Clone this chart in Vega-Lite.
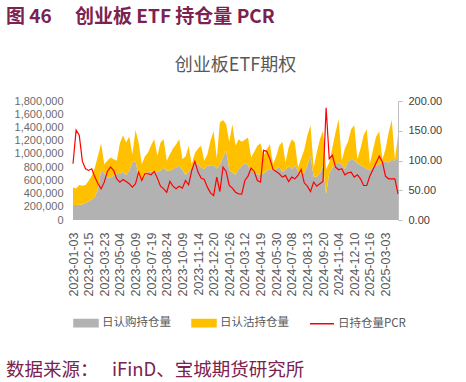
{
  "$schema": "https://vega.github.io/schema/vega-lite/v6.json",
  "background": "white",
  "padding": {"left": 6, "top": 8, "right": 5, "bottom": 2},
  "title": {"text": "数据来源：　 iFinD、宝城期货研究所", "orient": "bottom", "anchor": "start", "frame": "bounds", "font": "Noto Sans CJK SC", "fontSize": 18.5, "fontWeight": "normal", "color": "#7B2250", "offset": 31},
  "vconcat": [
    {
      "title": {"text": "图 46　 创业板 ETF 持仓量 PCR", "anchor": "start", "frame": "bounds", "font": "Noto Sans CJK SC", "fontSize": 19, "fontWeight": "bold", "color": "#7B2250", "offset": 30},
      "vconcat": [
        {
          "width": 325,
          "height": 119,
          "title": {"text": "创业板ETF期权", "font": "Noto Sans CJK SC", "fontSize": 18, "fontWeight": "normal", "color": "#595959", "anchor": "middle", "offset": 20},
          "data": {"values": [
            {"d":"2023-01-03","call":226000,"put":267000,"pcr":94.6},
            {"d":"2023-01-10","call":226000,"put":252000,"pcr":150.9},
            {"d":"2023-01-17","call":231000,"put":297000,"pcr":142.4},
            {"d":"2023-02-01","call":236000,"put":282000,"pcr":98.5},
            {"d":"2023-02-08","call":257000,"put":272000,"pcr":86.1},
            {"d":"2023-02-15","call":282000,"put":312000,"pcr":83.3},
            {"d":"2023-02-22","call":307000,"put":362000,"pcr":86.1},
            {"d":"2023-03-01","call":347000,"put":448000,"pcr":72.1},
            {"d":"2023-03-08","call":468000,"put":503000,"pcr":60.8},
            {"d":"2023-03-15","call":760000,"put":402000,"pcr":52.4},
            {"d":"2023-03-23","call":709000,"put":136000,"pcr":63.6},
            {"d":"2023-03-30","call":644000,"put":252000,"pcr":81.6},
            {"d":"2023-04-07","call":644000,"put":302000,"pcr":89.0},
            {"d":"2023-04-14","call":669000,"put":252000,"pcr":83.3},
            {"d":"2023-04-21","call":694000,"put":201000,"pcr":69.2},
            {"d":"2023-05-04","call":694000,"put":468000,"pcr":63.6},
            {"d":"2023-05-11","call":729000,"put":553000,"pcr":68.1},
            {"d":"2023-05-18","call":679000,"put":493000,"pcr":64.7},
            {"d":"2023-05-25","call":744000,"put":518000,"pcr":60.8},
            {"d":"2023-06-01","call":870000,"put":126000,"pcr":55.2},
            {"d":"2023-06-09","call":895000,"put":468000,"pcr":60.8},
            {"d":"2023-06-16","call":659000,"put":513000,"pcr":80.5},
            {"d":"2023-06-26","call":619000,"put":226000,"pcr":66.4},
            {"d":"2023-07-03","call":659000,"put":302000,"pcr":77.7},
            {"d":"2023-07-10","call":729000,"put":292000,"pcr":77.7},
            {"d":"2023-07-19","call":729000,"put":402000,"pcr":76.0},
            {"d":"2023-07-26","call":709000,"put":513000,"pcr":81.6},
            {"d":"2023-08-02","call":729000,"put":241000,"pcr":70.4},
            {"d":"2023-08-09","call":744000,"put":428000,"pcr":56.9},
            {"d":"2023-08-16","call":795000,"put":428000,"pcr":52.4},
            {"d":"2023-08-24","call":744000,"put":151000,"pcr":46.7},
            {"d":"2023-08-31","call":744000,"put":252000,"pcr":64.7},
            {"d":"2023-09-07","call":770000,"put":312000,"pcr":56.9},
            {"d":"2023-09-14","call":795000,"put":352000,"pcr":52.4},
            {"d":"2023-09-22","call":820000,"put":402000,"pcr":56.9},
            {"d":"2023-10-09","call":760000,"put":161000,"pcr":53.5},
            {"d":"2023-10-16","call":679000,"put":282000,"pcr":66.4},
            {"d":"2023-10-23","call":729000,"put":392000,"pcr":59.1},
            {"d":"2023-10-30","call":795000,"put":50000,"pcr":83.3},
            {"d":"2023-11-06","call":860000,"put":151000,"pcr":98.5},
            {"d":"2023-11-14","call":850000,"put":231000,"pcr":80.5},
            {"d":"2023-11-21","call":795000,"put":327000,"pcr":70.4},
            {"d":"2023-11-28","call":770000,"put":126000,"pcr":68.1},
            {"d":"2023-12-05","call":820000,"put":176000,"pcr":55.2},
            {"d":"2023-12-12","call":830000,"put":367000,"pcr":45.6},
            {"d":"2023-12-20","call":830000,"put":518000,"pcr":41.1},
            {"d":"2023-12-27","call":780000,"put":151000,"pcr":72.1},
            {"d":"2024-01-04","call":845000,"put":629000,"pcr":47.9},
            {"d":"2024-01-11","call":946000,"put":568000,"pcr":89.0},
            {"d":"2024-01-18","call":1046000,"put":402000,"pcr":81.6},
            {"d":"2024-01-26","call":760000,"put":423000,"pcr":58.0},
            {"d":"2024-02-02","call":719000,"put":729000,"pcr":53.5},
            {"d":"2024-02-08","call":679000,"put":443000,"pcr":46.7},
            {"d":"2024-02-22","call":770000,"put":453000,"pcr":43.9},
            {"d":"2024-02-29","call":820000,"put":362000,"pcr":43.4},
            {"d":"2024-03-12","call":860000,"put":352000,"pcr":66.4},
            {"d":"2024-03-19","call":830000,"put":417000,"pcr":73.8},
            {"d":"2024-03-26","call":744000,"put":201000,"pcr":87.3},
            {"d":"2024-04-02","call":729000,"put":302000,"pcr":81.6},
            {"d":"2024-04-11","call":694000,"put":428000,"pcr":66.4},
            {"d":"2024-04-19","call":679000,"put":483000,"pcr":63.6},
            {"d":"2024-04-26","call":709000,"put":262000,"pcr":117.1},
            {"d":"2024-05-08","call":744000,"put":327000,"pcr":115.4},
            {"d":"2024-05-15","call":770000,"put":377000,"pcr":103.0},
            {"d":"2024-05-22","call":755000,"put":91000,"pcr":85.0},
            {"d":"2024-05-30","call":770000,"put":191000,"pcr":81.6},
            {"d":"2024-06-06","call":810000,"put":312000,"pcr":77.7},
            {"d":"2024-06-14","call":729000,"put":453000,"pcr":72.1},
            {"d":"2024-06-21","call":760000,"put":111000,"pcr":74.9},
            {"d":"2024-06-28","call":810000,"put":287000,"pcr":64.7},
            {"d":"2024-07-08","call":770000,"put":453000,"pcr":72.1},
            {"d":"2024-07-15","call":820000,"put":352000,"pcr":69.2},
            {"d":"2024-07-22","call":744000,"put":50000,"pcr":74.9},
            {"d":"2024-07-29","call":694000,"put":236000,"pcr":85.0},
            {"d":"2024-08-05","call":719000,"put":342000,"pcr":62.5},
            {"d":"2024-08-13","call":830000,"put":453000,"pcr":56.9},
            {"d":"2024-08-20","call":971000,"put":463000,"pcr":47.9},
            {"d":"2024-08-27","call":659000,"put":136000,"pcr":63.6},
            {"d":"2024-09-03","call":654000,"put":367000,"pcr":56.9},
            {"d":"2024-09-10","call":709000,"put":513000,"pcr":60.8},
            {"d":"2024-09-20","call":820000,"put":528000,"pcr":64.7},
            {"d":"2024-09-27","call":392000,"put":377000,"pcr":188.6},
            {"d":"2024-10-11","call":709000,"put":161000,"pcr":103.0},
            {"d":"2024-10-18","call":795000,"put":302000,"pcr":108.7},
            {"d":"2024-10-25","call":840000,"put":483000,"pcr":89.0},
            {"d":"2024-11-04","call":870000,"put":654000,"pcr":84.5},
            {"d":"2024-11-11","call":840000,"put":55000,"pcr":86.1},
            {"d":"2024-11-18","call":770000,"put":312000,"pcr":76.0},
            {"d":"2024-11-25","call":890000,"put":292000,"pcr":79.4},
            {"d":"2024-12-02","call":910000,"put":463000,"pcr":80.5},
            {"d":"2024-12-10","call":905000,"put":528000,"pcr":72.1},
            {"d":"2024-12-17","call":860000,"put":60000,"pcr":76.0},
            {"d":"2024-12-24","call":830000,"put":252000,"pcr":69.2},
            {"d":"2024-12-31","call":805000,"put":478000,"pcr":58.0},
            {"d":"2025-01-09","call":770000,"put":604000,"pcr":58.0},
            {"d":"2025-01-16","call":760000,"put":86000,"pcr":73.8},
            {"d":"2025-01-23","call":800000,"put":262000,"pcr":85.0},
            {"d":"2025-02-07","call":820000,"put":443000,"pcr":96.3},
            {"d":"2025-02-14","call":845000,"put":493000,"pcr":107.5},
            {"d":"2025-02-21","call":870000,"put":50000,"pcr":97.4},
            {"d":"2025-03-03","call":890000,"put":181000,"pcr":73.8},
            {"d":"2025-03-10","call":870000,"put":453000,"pcr":69.2},
            {"d":"2025-03-17","call":910000,"put":604000,"pcr":69.2},
            {"d":"2025-03-24","call":900000,"put":20000,"pcr":69.2},
            {"d":"2025-03-31","call":941000,"put":332000,"pcr":43.9}
          ]},
          "encoding": {
            "x": {
              "field": "d", "type": "ordinal",
              "scale": {"type": "point", "padding": 0},
              "axis": {
                "title": null,
                "values": ["2023-01-03","2023-02-15","2023-03-23","2023-05-04","2023-06-09","2023-07-19","2023-08-24","2023-10-09","2023-11-14","2023-12-20","2024-01-26","2024-03-12","2024-04-19","2024-05-30","2024-07-08","2024-08-13","2024-09-20","2024-11-04","2024-12-10","2025-01-16","2025-03-03"],
                "labelAngle": -90, "labelFont": "Liberation Sans", "labelFontSize": 12.5, "labelColor": "#595959",
                "domain": false, "ticks": false, "tickSize": 0, "labelPadding": 12, "grid": false
              }
            }
          },
          "layer": [
            {
              "transform": [{"fold": ["call", "put"], "as": ["series", "value"]}],
              "mark": {"type": "area", "interpolate": "linear"},
              "encoding": {
                "y": {
                  "field": "value", "type": "quantitative", "stack": "zero",
                  "scale": {"domain": [0, 1800000], "nice": false},
                  "axis": {
                    "title": null, "orient": "left", "values": [0,200000,400000,600000,800000,1000000,1200000,1400000,1600000,1800000],
                    "format": ",.0f", "domain": false, "ticks": false, "grid": false,
                    "labelFont": "Liberation Sans", "labelFontSize": 11, "labelColor": "#6B6B6B", "labelPadding": 10, "minExtent": 67
                  }
                },
                "color": {
                  "field": "series", "type": "nominal",
                  "scale": {"domain": ["call", "put", "pcr"], "range": ["#B2B2B2", "#FFC000", "#FF0000"]},
                  "legend": {
                    "orient": "bottom", "direction": "horizontal", "title": null, "offset": 14,
                    "labelFont": "Noto Sans CJK SC", "labelFontSize": 11.5, "labelColor": "#595959",
                    "labelOffset": 3, "columnPadding": 18, "symbolSize": 576,
                    "symbolType": "M-1,-0.3H1V0.3H-1Z",
                    "labelExpr": "datum.value == 'call' ? '日认购持仓量' : datum.value == 'put' ? '日认沽持仓量' : '日持仓量PCR'",
                    "encode": {
                      "symbols": {
                        "update": {
                          "shape": {"signal": "datum.value == 'pcr' ? 'stroke' : 'M-1,-0.3H1V0.3H-1Z'"},
                          "fill": {"signal": "datum.value == 'pcr' ? 'transparent' : (datum.value == 'call' ? '#B2B2B2' : '#FFC000')"},
                          "stroke": {"signal": "datum.value == 'pcr' ? '#FF0000' : 'transparent'"},
                          "strokeWidth": {"value": 1.5},
                          "size": {"value": 576},
                          "opacity": {"value": 1}
                        }
                      }
                    }
                  }
                },
                "order": {"field": "series", "sort": "ascending"}
              }
            },
            {
              "mark": {"type": "line", "strokeWidth": 1.2, "interpolate": "linear"},
              "encoding": {
                "y": {
                  "field": "pcr", "type": "quantitative",
                  "scale": {"domain": [0, 200], "nice": false},
                  "axis": {
                    "title": null, "orient": "right", "values": [0,50,100,150,200], "format": ".2f",
                    "domain": true, "domainColor": "#BFBFBF", "ticks": true, "tickColor": "#BFBFBF", "tickSize": 4,
                    "grid": false, "labelFont": "Liberation Sans", "labelFontSize": 11, "labelColor": "#404040", "labelPadding": 6
                  }
                },
                "color": {"datum": "pcr"}
              }
            }
          ],
          "resolve": {"scale": {"y": "independent"}}
        }
      ]
    }
  ],
  "config": {"view": {"stroke": null}, "concat": {"spacing": 0}}
}
